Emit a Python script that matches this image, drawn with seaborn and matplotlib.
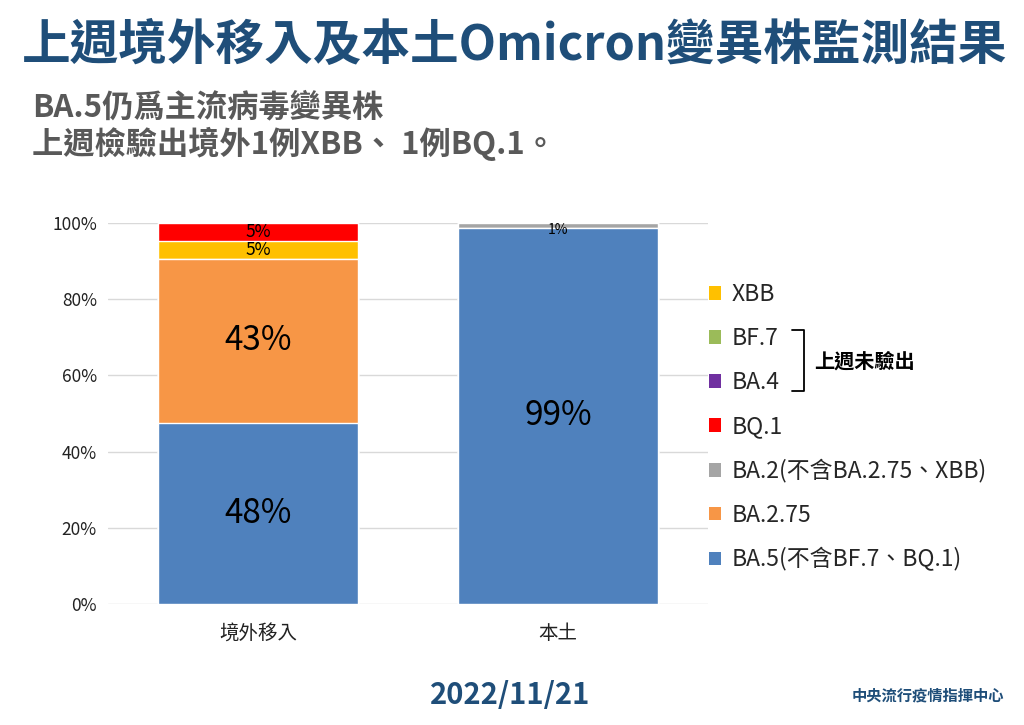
"""Weekly Omicron variant surveillance chart (imported vs. local cases)."""
import matplotlib
matplotlib.use("Agg")
import matplotlib.pyplot as plt
from matplotlib.lines import Line2D
from matplotlib.patches import Patch
from matplotlib.ticker import PercentFormatter
import numpy as np
import seaborn as sns

# ---- data -------------------------------------------------------------
categories = ["境外移入", "本土"]
# stacking order, bottom -> top
variants = ["BA.5(不含BF.7、BQ.1)", "BA.2.75", "BA.2(不含BA.2.75、XBB)",
            "XBB", "BQ.1", "BA.4", "BF.7"]
shares = {
    "BA.5(不含BF.7、BQ.1)": [47.6, 98.8],
    "BA.2.75": [42.9, 0.0],
    "BA.2(不含BA.2.75、XBB)": [0.0, 1.2],
    "XBB": [4.75, 0.0],
    "BQ.1": [4.75, 0.0],
    "BA.4": [0.0, 0.0],
    "BF.7": [0.0, 0.0],
}
colors = {
    "BA.5(不含BF.7、BQ.1)": "#4F81BD",
    "BA.2.75": "#F79646",
    "BA.2(不含BA.2.75、XBB)": "#A5A5A5",
    "XBB": "#FFC000",
    "BQ.1": "#FF0000",
    "BA.4": "#7030A0",
    "BF.7": "#9BBB59",
}
legend_order = ["XBB", "BF.7", "BA.4", "BQ.1", "BA.2(不含BA.2.75、XBB)",
                "BA.2.75", "BA.5(不含BF.7、BQ.1)"]
not_detected = ["BF.7", "BA.4"]

title = "上週境外移入及本土Omicron變異株監測結果"
subtitle = ["BA.5仍爲主流病毒變異株", "上週檢驗出境外1例XBB、 1例BQ.1。"]
date_text = "2022/11/21"
source_text = "中央流行疫情指揮中心"

# ---- style ------------------------------------------------------------
sns.set_style("white")
plt.rcParams["font.family"] = ["Noto Sans CJK TC", "DejaVu Sans"]

navy = "#1F4E79"
fig = plt.figure(figsize=(10.24, 7.25), dpi=100)
ax = fig.add_axes([0.1055, 0.1669, 0.586, 0.5255])

# stacked bars: draw cumulative totals from the top layer down
cum = np.cumsum([shares[v] for v in variants], axis=0)
for i in range(len(variants) - 1, -1, -1):
    sns.barplot(x=categories, y=cum[i], color=colors[variants[i]],
                width=0.667, saturation=1, ax=ax, zorder=2)

# segment labels
for i, v in enumerate(variants):
    for j, val in enumerate(shares[v]):
        if val <= 0:
            continue
        mid = cum[i][j] - val / 2
        if val < 3:
            mid -= 1.2  # tiny segment: label sits just under the strip
        size = 24 if val >= 20 else (12.5 if val >= 3 else 10)
        ax.text(j, mid, f"{val:.0f}%", ha="center", va="center",
                fontsize=size, color="black", zorder=3)

ax.set_ylim(0, 100)
ax.set_xlim(-0.5, 1.5)
ax.set_yticks(np.arange(0, 101, 20))
ax.yaxis.set_major_formatter(PercentFormatter(100, decimals=0))
ax.grid(axis="y", color="#D9D9D9", linewidth=1, zorder=0)
ax.set_axisbelow(True)
ax.set_xlabel("")
ax.set_ylabel("")
for s in ax.spines.values():
    s.set_visible(False)
ax.tick_params(axis="y", length=0, labelsize=12.5, pad=8, labelcolor="#222222")
ax.tick_params(axis="x", length=0, labelsize=14, pad=14, labelcolor="#222222")

# legend
handles = [Patch(facecolor=colors[v], edgecolor="none") for v in legend_order]
leg = fig.legend(handles, legend_order, loc="upper left",
                 bbox_to_anchor=(0.692, 0.609), frameon=False, fontsize=16.5,
                 handlelength=0.55, handleheight=0.55, handletextpad=0.45,
                 labelspacing=0.91, borderpad=0, borderaxespad=0)

# bracket for variants not detected last week
fig.canvas.draw()
inv = fig.transFigure.inverted()
boxes = [t.get_window_extent() for t in leg.get_texts()
         if t.get_text() in not_detected]
x0 = inv.transform((max(b.x1 for b in boxes), 0))[0] + 0.012
y_top = inv.transform((0, max(b.y1 for b in boxes)))[1] - 0.004
y_bot = inv.transform((0, min(b.y0 for b in boxes)))[1] + 0.004
x1 = x0 + 0.012
fig.add_artist(Line2D([x0, x1, x1, x0], [y_top, y_top, y_bot, y_bot],
                      transform=fig.transFigure, color="black", lw=1.3))
fig.text(x1 + 0.01, (y_top + y_bot) / 2, "上週未驗出", fontsize=14.5,
         fontweight="bold", va="center", ha="left", color="black")

# headings and footer
fig.text(0.021, 0.937, title, fontsize=35, fontweight="bold", color=navy,
         va="center", ha="left")
fig.text(0.031, 0.852, subtitle[0], fontsize=22.5, fontweight="bold",
         color="#595959", va="center", ha="left")
fig.text(0.031, 0.802, subtitle[1], fontsize=22.5, fontweight="bold",
         color="#595959", va="center", ha="left")
fig.text(0.498, 0.041, date_text, fontsize=21, fontweight="bold", color=navy,
         va="center", ha="center")
fig.text(0.981, 0.041, source_text, fontsize=11, fontweight="bold",
         color=navy, va="center", ha="right")

fig.savefig("out.png", dpi=100)
